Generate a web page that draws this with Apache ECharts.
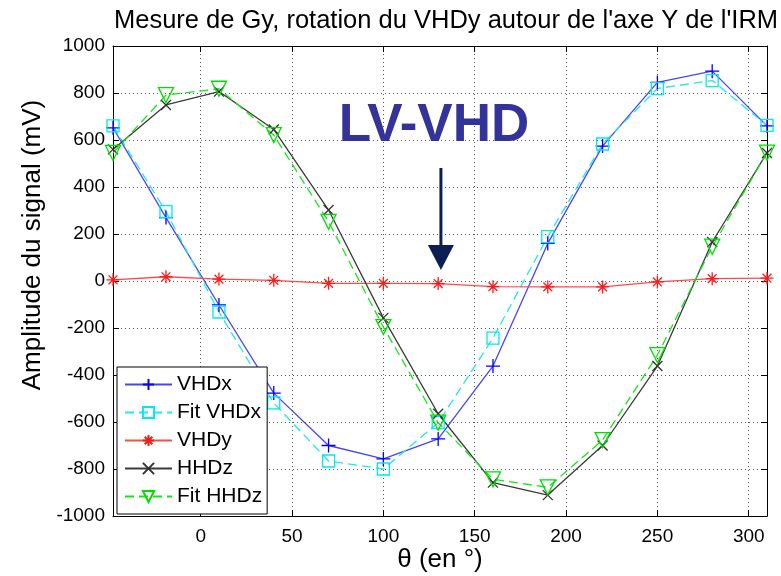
<!DOCTYPE html>
<html><head><meta charset="utf-8">
<script src="https://cdn.jsdelivr.net/npm/echarts@6/dist/echarts.min.js"></script>
<style>html,body{margin:0;padding:0;background:#fff}#c{width:781px;height:576px}</style>
</head><body><div id="c"></div>
<script>
const theta = [-48, -19, 10, 40, 70, 100, 130, 160, 190, 220, 250, 280, 310];
const vhdx = [652, 270, -102, -477, -700, -757, -672, -362, 160, 574, 845, 893, 660];
const fitVhdx = [660, 295, -132, -519, -766, -800, -603, -243, 189, 583, 819, 853, 662];
const vhdy = [5, 18, 8, 3, -10, -10, -11, -24, -25, -25, -4, 10, 12];
const hhdz = [560, 749, 806, 645, 302, -157, -565, -858, -911, -700, -362, 166, 545];
const fitHhdz = [545, 791, 818, 621, 252, -196, -603, -844, -878, -677, -315, 146, 546];
const seriesNames = ['VHDx', 'Fit VHDx', 'VHDy', 'HHDz', 'Fit HHDz'];
const titleText = "Mesure de Gy, rotation du VHDy autour de l'axe Y de l'IRM";
const xName = 'θ (en °)';
const yName = 'Amplitude du signal (mV)';
const annotText = 'LV-VHD';
const arrowX = 131.5, arrowTop = 481, arrowTip = 47;

const FONT = 'Liberation Sans, Arial, sans-serif';
const pair = arr => theta.map((t, i) => [t, arr[i]]);
const plus = 'path://M5,0 L5,10 M0,5 L10,5';
const star = 'path://M5,0 L5,10 M0,5 L10,5 M1.6,1.6 L8.4,8.4 M8.4,1.6 L1.6,8.4';
const cross = 'path://M0,0 L10,10 M10,0 L0,10';

function mk(name, data, lineColor, markColor, symbol, size, dashed, rotate) {
  return {
    name, type: 'line', data: pair(data), symbol, symbolSize: size, symbolRotate: rotate || 0,
    showAllSymbol: true, animation: false,
    lineStyle: { color: lineColor, width: 1.3, type: dashed ? [9, 5] : 'solid' },
    itemStyle: { color: 'rgba(255,255,255,0)', borderColor: markColor, borderWidth: 1.3 },
    emphasis: { disabled: true }
  };
}

const chart = echarts.init(document.getElementById('c'), null, { renderer: 'canvas' });
const gridLine = { show: true, lineStyle: { color: '#555', type: [1, 3], width: 1 } };
const axisCommon = {
  axisLine: { show: true, onZero: false, lineStyle: { color: '#000', width: 1 } },
  axisTick: { show: true, inside: true, length: 6, lineStyle: { color: '#000' } }
};
const plain = v => String(v);
chart.setOption({
  animation: false,
  textStyle: { fontFamily: FONT },
  title: {
    text: titleText, left: 441, top: 3, textAlign: 'center',
    textStyle: { fontFamily: FONT, fontSize: 25.5, fontWeight: 'normal', color: '#000' }
  },
  grid: { left: 113, right: 14, top: 46, bottom: 60, containLabel: false, outerBoundsMode: 'none' },
  legend: {
    orient: 'vertical', left: 117, top: 367, data: seriesNames,
    backgroundColor: '#fff', borderColor: '#000', borderWidth: 1,
    padding: [7, 5, 7, 7], itemWidth: 47, itemHeight: 14, itemGap: 7,
    textStyle: { fontFamily: FONT, fontSize: 21, color: '#000' }
  },
  xAxis: [
    Object.assign({
      type: 'value', min: -48, max: 310, splitNumber: 7, position: 'bottom',
      axisLabel: { showMinLabel: false, showMaxLabel: false, fontSize: 19, color: '#000', margin: 11, fontFamily: FONT, formatter: plain },
      splitLine: gridLine
    }, axisCommon),
    Object.assign({
      type: 'value', min: -48, max: 310, splitNumber: 7, position: 'top',
      axisLabel: { show: false }, splitLine: { show: false }
    }, axisCommon)
  ],
  yAxis: [
    Object.assign({
      type: 'value', min: -1000, max: 1000, interval: 200, position: 'left',
      axisLabel: { fontSize: 19, color: '#000', margin: 8, fontFamily: FONT, formatter: plain },
      splitLine: gridLine
    }, axisCommon),
    Object.assign({
      type: 'value', min: -1000, max: 1000, interval: 200, position: 'right',
      axisLabel: { show: false }, splitLine: { show: false }
    }, axisCommon)
  ],
  series: [
    mk(seriesNames[0], vhdx, '#4646f2', '#0000ff', plus, 14, false),
    mk(seriesNames[1], fitVhdx, '#22e6f0', '#00e8f0', 'rect', 12, true),
    mk(seriesNames[2], vhdy, '#ff4a4a', '#ff1a1a', star, 13, false),
    mk(seriesNames[3], hhdz, '#3a3a3a', '#333333', cross, 10, false),
    mk(seriesNames[4], fitHhdz, '#14e614', '#00dd00', 'triangle', 15, true, 180)
  ]
});

function drawAnnot() {
  const top = chart.convertToPixel({ gridIndex: 0 }, [arrowX, arrowTop]);
  const tip = chart.convertToPixel({ gridIndex: 0 }, [arrowX, arrowTip]);
  const headH = 25, headW = 13;
  chart.setOption({
    graphic: [
      { type: 'line', shape: { x1: top[0], y1: top[1], x2: tip[0], y2: tip[1] - headH + 2 },
        style: { stroke: '#0c1e54', lineWidth: 3 }, z: 100 },
      { type: 'polygon', shape: { points: [[tip[0] - headW, tip[1] - headH], [tip[0] + headW, tip[1] - headH], [tip[0], tip[1]]] },
        style: { fill: '#0c1e54' }, z: 100 },
      { type: 'text', x: 434, y: 126, z: 100,
        style: { text: annotText, fill: '#333399', font: 'bold 53px ' + FONT, align: 'center', verticalAlign: 'middle' } },
      { type: 'text', x: 33, y: 245, rotation: Math.PI / 2, z: 100,
        style: { text: yName, fill: '#000', font: '26px ' + FONT, align: 'center', verticalAlign: 'middle' } },
      { type: 'text', x: 440, y: 560, z: 100,
        style: { text: xName, fill: '#000', font: '26px ' + FONT, align: 'center', verticalAlign: 'middle' } }
    ]
  });
}
drawAnnot();
</script>
</body></html>
